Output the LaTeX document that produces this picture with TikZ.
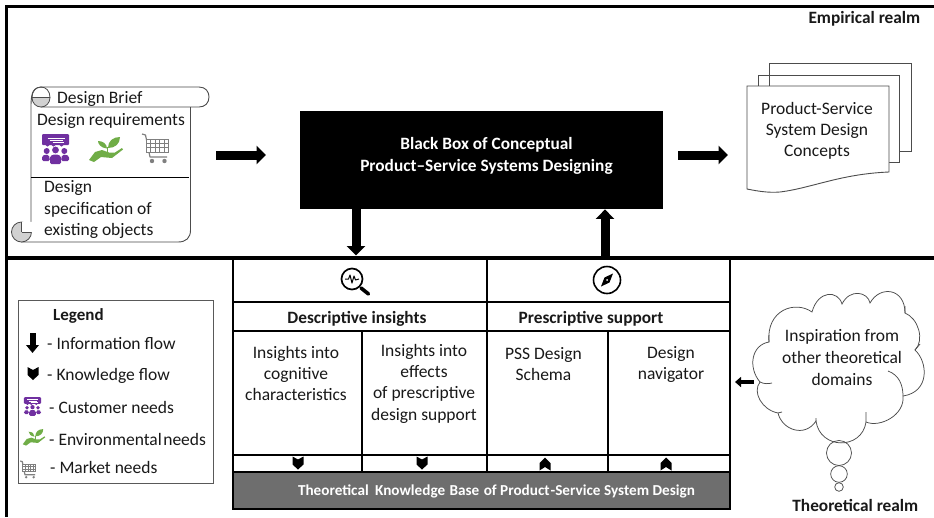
\documentclass[tikz,border=0pt]{standalone}
\usepackage{fontspec}
\setmainfont{Carlito}
\usetikzlibrary{arrows.meta,calc}
\definecolor{needpurple}{HTML}{7030A0}
\definecolor{needgreen}{HTML}{70AD47}
\definecolor{needgray}{HTML}{7F7F7F}
\definecolor{basegray}{HTML}{6E6E6E}
\tikzset{
  lbl/.style={inner sep=0pt,font=\fontsize{17.5}{21.3}\selectfont,align=center,text=black!90},
  lblw/.style={lbl,anchor=west,text height=13pt,text depth=2pt},
  blbl/.style={inner sep=0pt,font=\fontsize{17.3}{22}\selectfont\bfseries,align=center,text=black!90},
  grid/.style={line width=2.4pt,black},
  thin box/.style={draw=black!70,line width=.9pt},
  infoflow/.style={line width=9pt,black,-{Triangle[length=9.5pt,width=18pt]}},
  chevdown/.pic={\fill[black] (-5.5,-6.5) -- (0,-3.5) -- (5.5,-6.5) -- (5.5,1.5) -- (0,6.5) -- (-5.5,1.5) -- cycle;},
  chevup/.pic={\fill[black] (-5.5,6.5) -- (0,3) -- (5.5,6.5) -- (5.5,-1) -- (0,-6.5) -- (-5.5,-1) -- cycle;},
  customer/.pic={
    \fill[needpurple,rounded corners=1pt] (-13.5,-15) rectangle (13.5,-4);
    \draw[white,line width=.6pt] (-8,-11) -- (9,-11) (-6,-8.7) -- (7,-8.7) (-3,-6.6) -- (8,-6.6);
    \fill[needpurple] (-4,-4) -- (0,-4) -- (-2,-2.4) -- cycle (4,-4) -- (8,-4) -- (6,-2.4) -- cycle (-10,-4) -- (-6,-4) -- (-8,-2.4) -- cycle;
    \fill[needpurple] (-8.8,2) circle (3) (8.8,2) circle (3) (0,1) circle (3.4);
    \fill[needpurple,rounded corners=1.5pt] (-13.5,12) -- (-13.5,7) -- (-10,5.5) -- (-6.5,6) -- (-5.5,12) -- cycle;
    \fill[needpurple,rounded corners=1.5pt] (13.5,12) -- (13.5,7) -- (10,5.5) -- (6.5,6) -- (5.5,12) -- cycle;
    \fill[needpurple,rounded corners=1.5pt] (-5.5,15) -- (-5.5,7) -- (0,5) -- (5.5,7) -- (5.5,15) -- cycle;
  },
  plant/.pic={
    \fill[needgreen] (-17,11) -- (-11,3) -- (-4,1) -- (3,3.5) -- (9,3.5) -- (16,-1) -- (17,0.5) -- (6,9) -- (-5,8) -- (-12,13) -- cycle;
    \fill[needgreen] (1,-0.5) .. controls (-5,-1) and (-8,-5) .. (-8,-8) .. controls (-3,-8) and (1,-5) .. cycle;
    \fill[needgreen] (2,-1) .. controls (2,-8) and (7,-12) .. (14,-12) .. controls (14,-5) and (9,-1) .. cycle;
    \draw[needgreen,line width=.9pt] (1.5,3) -- (1.5,-2);
  },
  cart/.pic={
    \draw[needgray,line width=1.2pt,line join=round] (-13,-15) -- (-9.5,-14) -- (-5,8) -- (12,8);
    \draw[needgray,line width=.9pt,fill=white] (-8.5,-10) rectangle (13,3);
    \foreach \u in {-4.5,0,4.5,9} \draw[needgray,line width=.9pt] (\u,-10) -- (\u,3);
    \foreach \v in {-5.7,-1.3} \draw[needgray,line width=.9pt] (-8.5,\v) -- (13,\v);
    \fill[needgray] (-3,12) circle (2.2) (9.5,12) circle (2.2);
  },
}
\begin{document}
\begin{tikzpicture}[x=1pt,y=-1pt]
\useasboundingbox (0,0) rectangle (934,517);
\fill[white] (0,0) rectangle (934,517);

% realms
\draw[line width=3pt] (934,6) -- (6,6) -- (6,517);
\draw[line width=4pt] (6,258) -- (934,258);
\node[blbl,anchor=east] (empirical) at (920.5,18.5) {Empirical realm};
\node[blbl,anchor=east] (theoretical) at (918.5,505.5) {Theoretical realm};

% design brief scroll
\draw[draw=black!70,line width=.9pt,fill=white]
  (31,232) -- (31,107) (31,107) .. controls (31,92) and (33,87) .. (43,87) -- (199,87)
  .. controls (206,87) and (209,92) .. (209,97) .. controls (209,103) and (205,107) .. (199,107) -- (41,107);
\draw[draw=black!70,line width=.9pt] (190.5,107) -- (190.5,230) .. controls (190.5,238) and (186,242) .. (178,242) -- (21,242);
\fill[black!18,draw=black!70,line width=.8pt] (50,97.5) .. controls (50,103) and (46,107) .. (41,107) .. controls (36,107) and (32,103) .. (32,97.5) -- cycle;
\draw[draw=black!70,line width=.8pt] (32,97.5) .. controls (32,91) and (36,87) .. (41,87) .. controls (46,87) and (50,91) .. (50,97.5);
\draw[draw=black!70,line width=.8pt,fill=black!18] (21.5,232) circle (10);
\fill[white] (21.5,232) -- (32,232) -- (32,222) -- (21.5,221.5) -- cycle;
\draw[draw=black!70,line width=.8pt] (21.5,232) -- (31,232) (21.5,232) -- (21.5,222);
\draw[black,line width=1pt] (31,177) -- (189,177);
\node[lblw] (brief) at (57,97.5) {Design Brief};
\node[lblw] (reqs) at (37,119.5) {Design requirements};
\pic (needA) at (55.5,149) {customer};
\pic (needB) at (106,149) {plant};
\pic (needC) at (155,149) {cart};
\node[lbl,anchor=north west,align=left] (spec) at (44,180.5) {Design\\specification of\\existing objects};

% black box
\node[fill=black,minimum width=363pt,minimum height=98pt,inner sep=0pt,anchor=north west] (blackbox) at (300,111) {};
\node[blbl,text=white] (bbtext) at (486.5,155.5) {Black Box of Conceptual\\Product–Service Systems Designing};

% concept documents
\draw[thin box] (769,86) -- (769,63) -- (911,63) -- (911,151) -- (899,151);
\draw[thin box] (758,86) -- (758,75) -- (899,75) -- (899,162) -- (889,162);
\draw[thin box,fill=white] (747,86) -- (889,86) -- (889,172)
  .. controls (840,174) and (812,188) .. (780,192) .. controls (768,193) and (757,191) .. (747,189) -- cycle;
\node[lbl] (concepts) at (817,131) {Product-Service\\System Design\\Concepts};

% main table
\fill[basegray] (233,472) rectangle (730,509);
\draw[grid] (233,258) -- (233,509) -- (730,509) -- (730,258);
\draw[grid] (487,258) -- (487,472);
\draw[grid] (233,302) -- (730,302) (233,331) -- (730,331) (233,455) -- (730,455) (233,472) -- (730,472);
\draw[grid] (362,331) -- (362,472) (608,331) -- (608,472);
\node[blbl] (descr) at (357,318.5) {Descriptive insights};
\node[blbl] (presc) at (591,318.5) {Prescriptive support};
\node[lbl] (cellA) at (296,373.5) {Insights into\\cognitive\\characteristics};
\node[lbl] (cellB) at (424,383.5) {Insights into\\effects\\of prescriptive\\design support};
\node[lbl] (cellC) at (543.5,364) {PSS Design\\Schema};
\node[lbl] (cellD) at (671,364.5) {Design\\navigator};
\pic at (298,463) {chevdown};
\pic at (422,463) {chevdown};
\pic at (545,464) {chevup};
\pic at (666,464) {chevup};
\node[blbl,text=white,font=\fontsize{15.2}{16}\selectfont\bfseries] (base) at (496.5,491) {Theoretical\hspace{3pt} Knowledge\hspace{1pt} Base\hspace{1pt} of Product\hspace{1pt}-Service System Design};

% magnifier icon
\coordinate (mag) at (352,279);
\draw[line width=1.7pt] (mag) circle (10.5);
\draw[line width=3.6pt,line cap=round] ($(mag)+(9,9)$) -- ($(mag)+(16.5,15)$);
\draw[line width=1pt,line join=round] ($(mag)+(-7,0)$) -- ($(mag)+(-3.5,0)$) -- ($(mag)+(-2,-4)$) -- ($(mag)+(0,4)$) -- ($(mag)+(2,-3)$) -- ($(mag)+(3.5,1)$) -- ($(mag)+(7,0)$);
% compass icon
\coordinate (comp) at (607,280);
\draw[line width=1.6pt] (comp) circle (13.5);
\fill ($(comp)+(6,-6.5)$) -- ($(comp)+(2.5,2.5)$) -- ($(comp)+(-6,6.5)$) -- ($(comp)+(-2.5,-2.5)$) -- cycle;
\fill[white] (comp) circle (1);

% flows
\coordinate (inA) at (216,155);
\coordinate (inB) at (266,155);
\coordinate (outA) at (678,155);
\coordinate (outB) at (728,155);
\coordinate (downB) at (356,255.5);
\coordinate (upA) at (605,256);
\draw[infoflow] (inA) -- (inB);
\draw[infoflow] (outA) -- (outB);
\draw[infoflow] (blackbox.south -| downB) -- (downB);
\draw[infoflow] (upA) -- (blackbox.south -| upA);

% cloud
\draw[thin box,line width=.75pt,fill=white]
  (769,342)
  .. controls (766,310) and (795,300) .. (812,312)
  .. controls (818,290) and (838,290) .. (842,304)
  .. controls (850,288) and (868,292) .. (870,303)
  .. controls (880,285) and (905,288) .. (905,313)
  .. controls (918,318) and (925,340) .. (915,350)
  .. controls (928,362) and (930,392) .. (903,396)
  .. controls (905,415) and (880,428) .. (866,422)
  .. controls (862,450) and (820,450) .. (816,421)
  .. controls (805,438) and (782,430) .. (778,413)
  .. controls (762,410) and (752,392) .. (760,382)
  .. controls (748,368) and (751,345) .. (769,342) -- cycle;
\draw[thin box,line width=.75pt] (769,342) -- (769,335)
  (760,382) .. controls (764,384) and (768,384) .. (772,383)
  (888,371) .. controls (899,375) and (903,385) .. (903,396)
  (866,422) -- (866,412)
  (816,421) -- (816,418)
  (778,413) -- (782,412)
  (915,350) -- (920,344)
  (905,313) -- (905,306);
\node[lbl,font=\fontsize{17.5}{22}\selectfont] (inspire) at (842,358) {Inspiration from\\other theoretical\\domains};
\draw[thin box,line width=.75pt] (839,453) circle (12.5);
\draw[thin box,line width=.75pt] (839,474) circle (8.3);
\draw[thin box,line width=.75pt] (839,487) circle (4.3);
\coordinate (insA) at (754,382);
\coordinate (insB) at (735,382);
\draw[line width=4.8pt,-{Triangle[length=6pt,width=10pt]}] (insA) -- (insB);

% legend
\node[draw=black!65,line width=.9pt,fill=white,minimum width=195pt,minimum height=183pt,inner sep=0pt,anchor=north west] (legend) at (18,300) {};
\node[blbl,font=\fontsize{17}{18}\selectfont\bfseries,anchor=west] (legtitle) at (53,315.5) {Legend};
\coordinate (legA) at (32.5,333);
\coordinate (legB) at (32.5,353);
\draw[line width=6pt,-{Triangle[length=8pt,width=12.5pt]}] (legA) -- (legB);
\pic at (33,373.5) {chevdown};
\pic[scale=.63] at (32.5,406.5) {customer};
\pic[scale=.66] at (34,437) {plant};
\pic[scale=.6] at (28,470) {cart};
\node[lblw] (legI) at (47,344) {- Information flow};
\node[lblw] (legK) at (47,375) {- Knowledge flow};
\node[lblw] (legC) at (49,408) {- Customer needs};
\node[lblw] (legE) at (49,440) {- Environmental\hspace{-2.5pt} needs};
\node[lblw] (legM) at (50,468) {- Market needs};
\end{tikzpicture}
\end{document}
